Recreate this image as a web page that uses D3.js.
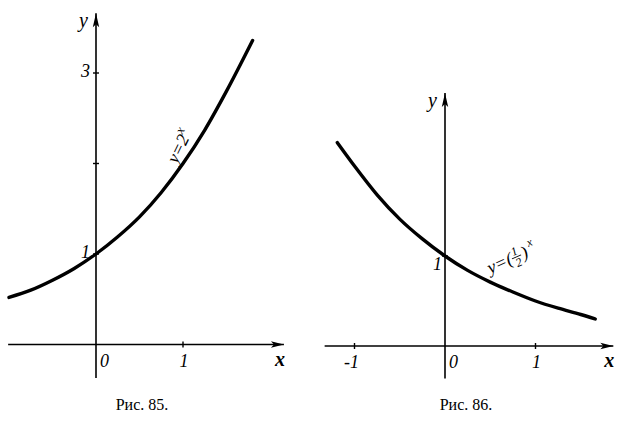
<!DOCTYPE html>
<html>
<head>
<meta charset="utf-8">
<script src="https://cdn.jsdelivr.net/npm/d3@7"></script>
<style>
  html, body { margin: 0; padding: 0; background: #fff; }
  svg { display: block; }
  .lbl { font-family: "Liberation Serif", "DejaVu Serif", serif; font-style: italic; fill: #000; }
  .cap { font-family: "Liberation Serif", "DejaVu Serif", serif; fill: #000; }
</style>
</head>
<body>
<svg id="chart" width="622" height="424"></svg>
<script>
// ---- data ----
// Рис. 85: y = 2^x
const x85 = [-1.0, -0.75, -0.5, -0.25, 0, 0.25, 0.5, 0.75, 1.0, 1.25, 1.5, 1.8];
const y85 = [0.52, 0.6, 0.71, 0.84, 1.0, 1.19, 1.41, 1.68, 2.0, 2.37, 2.8, 3.36];
// Рис. 86: y = (1/2)^x
const x86 = [-1.19, -1.0, -0.75, -0.5, -0.25, 0, 0.25, 0.5, 0.75, 1.0, 1.25, 1.5, 1.66];
const y86 = [2.26, 2.0, 1.68, 1.41, 1.19, 1.0, 0.84, 0.71, 0.6, 0.5, 0.42, 0.35, 0.3];
// tick labels
const xTicks85 = [1];
const xTickLabels85 = ["1"];
const yTicks85 = [1, 2, 3];
const yTickLabels85 = ["1", "", "3"];
const xTicks86 = [-1, 1];
const xTickLabels86 = ["-1", "1"];
const yTicks86 = [1];
const yTickLabels86 = ["1"];
const captions = ["Рис. 85.", "Рис. 86."];

const svg = d3.select("#chart");

function panel(cfg) {
  const g = svg.append("g");
  const sx = d3.scaleLinear().domain([0, 1]).range(cfg.xr);
  const sy = d3.scaleLinear().domain([0, 1]).range(cfg.yr);

  // axes lines
  g.append("line").attr("x1", sx(cfg.xmin)).attr("x2", sx(cfg.xmax))
    .attr("y1", sy(0)).attr("y2", sy(0)).attr("stroke", "#000").attr("stroke-width", 1.6);
  g.append("line").attr("x1", sx(0)).attr("x2", sx(0))
    .attr("y1", sy(cfg.ymin)).attr("y2", sy(cfg.ymax)).attr("stroke", "#000").attr("stroke-width", 1.6);

  // arrowheads
  const ax = sx(cfg.xmax), ay = sy(0);
  g.append("path").attr("d", `M${ax},${ay} L${ax-13},${ay-3.2} L${ax-10},${ay} L${ax-13},${ay+3.2} Z`).attr("fill", "#000");
  const bx = sx(0), by = sy(cfg.ymax);
  g.append("path").attr("d", `M${bx},${by} L${bx-3.2},${by+14} L${bx},${by+11} L${bx+3.2},${by+14} Z`).attr("fill", "#000");

  // ticks
  cfg.xt.forEach(t => g.append("line").attr("x1", sx(t)).attr("x2", sx(t))
    .attr("y1", sy(0) - 3).attr("y2", sy(0) + 3).attr("stroke", "#000").attr("stroke-width", 1.4));
  cfg.yt.forEach(t => g.append("line").attr("x1", sx(0) - 3).attr("x2", sx(0) + 3)
    .attr("y1", sy(t)).attr("y2", sy(t)).attr("stroke", "#000").attr("stroke-width", 1.4));

  // tick labels
  cfg.xt.forEach((t, i) => g.append("text").attr("class", "lbl")
    .attr("x", sx(t) + (t < 0 ? -3 : 1)).attr("y", sy(0) + 22).attr("text-anchor", "middle")
    .attr("font-size", 18).text(cfg.xtl[i]));
  cfg.yt.forEach((t, i) => g.append("text").attr("class", "lbl")
    .attr("x", sx(0) - cfg.yLabDx).attr("y", sy(t) + cfg.yLabDy).attr("text-anchor", "end")
    .attr("font-size", 18).text(cfg.ytl[i]));
  g.append("text").attr("class", "lbl").attr("x", sx(0) + 4).attr("y", sy(0) + 22)
    .attr("font-size", 18).text("0");

  // axis names
  g.append("text").attr("class", "lbl").attr("x", ax - 9).attr("y", ay + 21)
    .attr("font-size", 20).attr("font-weight", "bold").text("x");
  g.append("text").attr("class", "lbl").attr("x", bx - 17).attr("y", by + 14)
    .attr("font-size", 20).text("y");

  // curve
  const line = d3.line().x(d => sx(d[0])).y(d => sy(d[1])).curve(d3.curveMonotoneX);
  g.append("path").datum(d3.zip(cfg.xs, cfg.ys)).attr("d", line)
    .attr("fill", "none").attr("stroke", "#000").attr("stroke-width", 3.4).attr("stroke-linecap", "round");

  // caption
  g.append("text").attr("class", "cap").attr("x", cfg.capX).attr("y", 410)
    .attr("text-anchor", "middle").attr("font-size", 16).text(cfg.cap);
  return { sx, sy, g };
}

const p1 = panel({
  xr: [96, 183], yr: [344.5, 254], xmin: -1.01, xmax: 2.16, ymin: -0.37, ymax: 3.66,
  xt: xTicks85, xtl: xTickLabels85, yt: yTicks85, ytl: yTickLabels85, yLabDx: 6, yLabDy: 4,
  xs: x85, ys: y85, cap: captions[0], capX: 142
});
const p2 = panel({
  xr: [445, 535.5], yr: [346, 256], xmin: -1.33, xmax: 1.86, ymin: -0.36, ymax: 2.81,
  xt: xTicks86, xtl: xTickLabels86, yt: yTicks86, ytl: yTickLabels86, yLabDx: 3, yLabDy: 14,
  xs: x86, ys: y86, cap: captions[1], capX: 466
});

// curve label y = 2^x
{
  const t = p1.g.append("text").attr("class", "lbl").attr("font-size", 18)
    .attr("transform", `translate(${p1.sx(0.93)},${p1.sy(1.99)}) rotate(-64)`);
  t.append("tspan").text("y=2");
  t.append("tspan").attr("dy", -8).attr("font-size", 13).text("x");
}
// curve label y = (1/2)^x
{
  const lg = p2.g.append("g")
    .attr("transform", `translate(${p2.sx(0.5)},${p2.sy(0.8)}) rotate(-24)`);
  lg.append("text").attr("class", "lbl").attr("font-size", 18).attr("x", 0).attr("y", 0).text("y=(");
  lg.append("text").attr("class", "lbl").attr("font-size", 12).attr("x", 31).attr("y", -7).attr("text-anchor", "middle").text("1");
  lg.append("line").attr("x1", 26).attr("x2", 36).attr("y1", -5).attr("y2", -5).attr("stroke", "#000").attr("stroke-width", 0.9);
  lg.append("text").attr("class", "lbl").attr("font-size", 12).attr("x", 31).attr("y", 5).attr("text-anchor", "middle").text("2");
  lg.append("text").attr("class", "lbl").attr("font-size", 18).attr("x", 37).attr("y", 0).text(")");
  lg.append("text").attr("class", "lbl").attr("font-size", 12).attr("x", 46).attr("y", -9).text("x");
}
</script>
</body>
</html>
